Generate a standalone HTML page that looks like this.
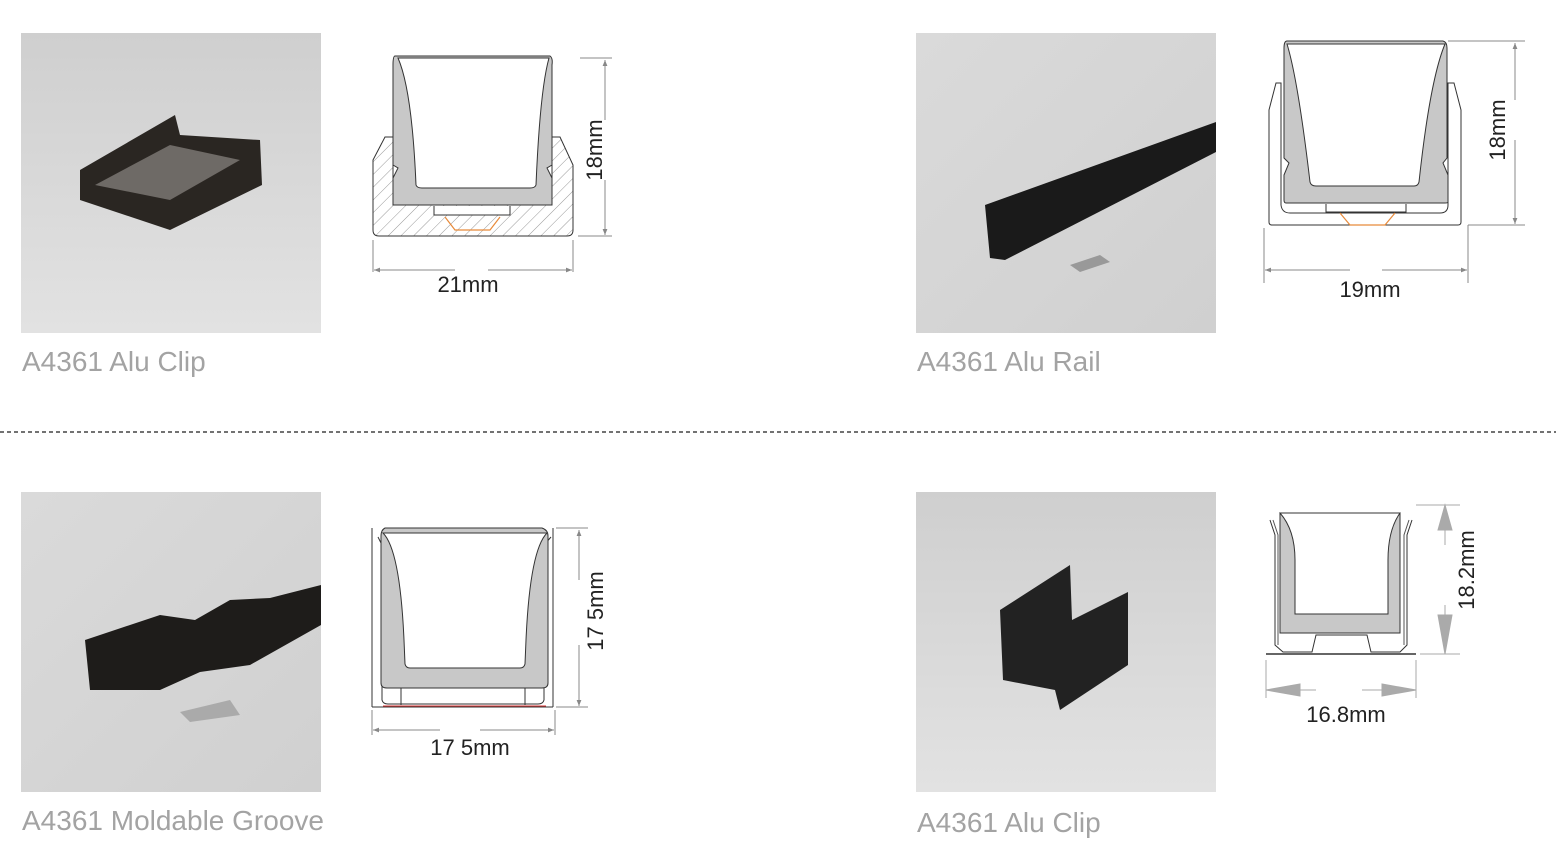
<!DOCTYPE html>
<html><head><meta charset="utf-8"><style>
html,body{margin:0;padding:0;background:#fff;width:1556px;height:856px;overflow:hidden}
svg{display:block}
</style></head><body>
<svg width="1556" height="856" viewBox="0 0 1556 856" xmlns="http://www.w3.org/2000/svg" font-family="'Liberation Sans', sans-serif">
<defs>
<pattern id="hatch" width="9" height="9" patternUnits="userSpaceOnUse" patternTransform="rotate(45)">
<rect width="9" height="9" fill="#fff"/><line x1="0" y1="0" x2="0" y2="9" stroke="#999" stroke-width="1"/></pattern>
<linearGradient id="bg1" x1="0" y1="0" x2="0" y2="1"><stop offset="0" stop-color="#cfcfcf"/><stop offset="1" stop-color="#e2e2e2"/></linearGradient>
<linearGradient id="bg2" x1="0" y1="0" x2="1" y2="1"><stop offset="0" stop-color="#dadada"/><stop offset="1" stop-color="#d0d0d0"/></linearGradient>
<marker id="ar" viewBox="0 0 10 10" refX="10" refY="5" markerWidth="10" markerHeight="6" orient="auto-start-reverse"><path d="M0,1 L10,5 L0,9Z" fill="#888"/></marker>
</defs>

<!-- photos -->
<rect x="21" y="33" width="300" height="300" fill="url(#bg1)"/>
<path d="M80,170 L175,115 L180,135 L260,140 L262,185 L170,230 L80,200Z" fill="#2a2622"/>
<path d="M95,185 L170,145 L240,160 L170,200Z" fill="#6e6a66"/>
<rect x="916" y="33" width="300" height="300" fill="url(#bg2)"/>
<path d="M985,205 L1216,122 L1216,152 L1005,260 L990,258Z" fill="#1a1a1a"/>
<path d="M1070,265 L1100,255 L1110,262 L1080,272Z" fill="#999"/>
<rect x="21" y="492" width="300" height="300" fill="url(#bg2)"/>
<path d="M85,640 L160,615 L195,620 L230,600 L270,598 L321,585 L321,625 L250,665 L200,672 L160,690 L90,690Z" fill="#1e1c1a"/>
<path d="M180,712 L230,700 L240,715 L190,722Z" fill="#aaa"/>
<rect x="916" y="492" width="300" height="300" fill="url(#bg1)"/>
<path d="M1000,610 L1070,565 L1072,620 L1128,592 L1128,665 L1060,710 L1055,690 L1003,680Z" fill="#222"/>

<!-- captions -->
<g fill="#a3a3a3" font-size="28">
<text x="22" y="371">A4361 Alu Clip</text>
<text x="917" y="371">A4361 Alu Rail</text>
<text x="22" y="830">A4361 Moldable Groove</text>
<text x="917" y="832">A4361 Alu Clip</text>
</g>

<line x1="0" y1="432" x2="1556" y2="432" stroke="#444" stroke-width="1.5" stroke-dasharray="4,3"/>

<!-- Diagram 1 -->
<g stroke="#333" stroke-width="1">
<path d="M385,137 L393,137 L393,205 L552,205 L552,137 L560,137 L573,165 L573,230 Q573,236 567,236 L379,236 Q373,236 373,230 L373,160Z" fill="url(#hatch)"/>
<path d="M395,56 L550,56 Q553,58 552,65 L552,165 L547,168 L552,178 L552,205 L393,205 L393,178 L398,168 L393,165 L393,65 Q393,56 395,56Z" fill="#c8c8c8"/>
<path d="M398,58 Q412,90 416,185 Q417,188 422,188 L530,188 Q535,188 536,185 Q540,90 549,58Z" fill="#fff"/>
<path d="M434,206 L434,215 L510,215 L510,206" fill="#fff"/>
</g>
<path d="M445,217 L455,230 L490,230 L500,217" fill="none" stroke="#e88a3a" stroke-width="1.2"/>
<g stroke="#888" stroke-width="1" fill="none">
<line x1="580" y1="58" x2="612" y2="58"/><line x1="578" y1="236" x2="612" y2="236"/>
<line x1="605" y1="60" x2="605" y2="120" marker-start="url(#ar)"/><line x1="605" y1="180" x2="605" y2="235" marker-end="url(#ar)"/>
<line x1="373" y1="240" x2="373" y2="272"/><line x1="573" y1="240" x2="573" y2="272"/>
<line x1="374" y1="270" x2="455" y2="270" marker-start="url(#ar)"/><line x1="488" y1="270" x2="572" y2="270" marker-end="url(#ar)"/>
</g>
<text x="468" y="292" font-size="22" text-anchor="middle" fill="#222">21mm</text>
<text transform="translate(602,150) rotate(-90)" font-size="22" text-anchor="middle" fill="#222">18mm</text>

<!-- Diagram 2 -->
<g stroke="#333" stroke-width="1">
<path d="M1276,83 L1281,83 L1281,205 Q1282,213 1290,213 L1440,213 Q1448,213 1448,205 L1448,83 L1454,83 L1461,110 L1461,222 Q1461,225 1458,225 L1272,225 Q1269,225 1269,222 L1269,110Z" fill="#fff"/>
<path d="M1287,41 L1443,41 Q1447,42 1447,48 L1447,158 L1443,163 L1448,175 L1448,202 Q1448,203 1445,203 L1286,203 Q1284,203 1284,200 L1284,175 L1289,163 L1284,158 L1284,48 Q1284,41 1287,41Z" fill="#c8c8c8"/>
<path d="M1287,44 Q1298,80 1310,182 Q1311,186 1316,186 L1414,186 Q1418,186 1419,182 Q1430,80 1445,44Z" fill="#fff"/>
<path d="M1326,204 L1326,212 L1406,212 L1406,204" fill="#fff"/>
</g>
<path d="M1340,213 L1350,225 L1385,225 L1395,213" fill="none" stroke="#e88a3a" stroke-width="1.2"/>
<g stroke="#888" stroke-width="1" fill="none">
<line x1="1448" y1="41" x2="1525" y2="41"/><line x1="1468" y1="225" x2="1525" y2="225"/>
<line x1="1515" y1="43" x2="1515" y2="100" marker-start="url(#ar)"/><line x1="1515" y1="140" x2="1515" y2="224" marker-end="url(#ar)"/>
<line x1="1264" y1="228" x2="1264" y2="283"/><line x1="1468" y1="225" x2="1468" y2="283"/>
<line x1="1265" y1="270" x2="1350" y2="270" marker-start="url(#ar)"/><line x1="1382" y1="270" x2="1467" y2="270" marker-end="url(#ar)"/>
</g>
<text x="1370" y="297" font-size="22" text-anchor="middle" fill="#222">19mm</text>
<text transform="translate(1505,130) rotate(-90)" font-size="22" text-anchor="middle" fill="#222">18mm</text>

<!-- Diagram 3 -->
<g stroke="#333" stroke-width="1">
<line x1="372" y1="528" x2="372" y2="707"/><line x1="553" y1="528" x2="553" y2="707"/>
<line x1="372" y1="707" x2="553" y2="707"/>
<path d="M378,537 L382,545 L382,700 Q383,704 388,704 L538,704 Q543,704 544,700 L544,545 L551,537" fill="none"/>
<path d="M385,528 L542,528 Q548,530 548,536 L548,683 Q548,688 542,688 L387,688 Q381,688 381,683 L381,536 Q381,530 385,528Z" fill="#c8c8c8"/>
<path d="M383,533 Q400,550 404,640 L405,664 Q406,668 410,668 L520,668 Q524,668 525,664 L526,640 Q530,550 547,533Z" fill="#fff"/>
<line x1="401" y1="688" x2="401" y2="705"/><line x1="525" y1="688" x2="525" y2="705"/>
</g>
<line x1="383" y1="706" x2="546" y2="706" stroke="#d33" stroke-width="1"/>
<g stroke="#888" stroke-width="1" fill="none">
<line x1="556" y1="528" x2="588" y2="528"/><line x1="556" y1="707" x2="588" y2="707"/>
<line x1="579" y1="530" x2="579" y2="580" marker-start="url(#ar)"/><line x1="579" y1="645" x2="579" y2="706" marker-end="url(#ar)"/>
<line x1="372" y1="710" x2="372" y2="735"/><line x1="555" y1="710" x2="555" y2="735"/>
<line x1="373" y1="730" x2="440" y2="730" marker-start="url(#ar)"/><line x1="480" y1="730" x2="554" y2="730" marker-end="url(#ar)"/>
</g>
<text x="470" y="755" font-size="22" text-anchor="middle" fill="#222">17 5mm</text>
<text transform="translate(603,611) rotate(-90)" font-size="22" text-anchor="middle" fill="#222">17 5mm</text>

<!-- Diagram 4 -->
<g stroke="#333" stroke-width="1">
<path d="M1270,520 L1275,535 L1275,645 L1283,652 L1312,652 L1316,635 L1367,635 L1371,652 L1400,652 L1407,645 L1407,535 L1412,520" fill="none"/>
<path d="M1273,520 L1278,535 L1278,645 M1409,520 L1404,535 L1404,645" fill="none" stroke="#555"/>
<rect x="1280" y="513" width="120" height="120" fill="#c8c8c8"/>
<path d="M1280,513 Q1295,530 1295,560 L1295,614 L1388,614 L1388,560 Q1388,530 1400,513Z" fill="#fff"/>
<line x1="1266" y1="654" x2="1416" y2="654" stroke-width="1.5"/>
</g>
<g fill="#aaa" stroke="#aaa">
<line x1="1416" y1="505" x2="1460" y2="505"/><line x1="1420" y1="654" x2="1460" y2="654"/>
<line x1="1445" y1="505" x2="1445" y2="654"/>
<path d="M1445,505 L1452,530 L1438,530Z"/><path d="M1445,654 L1452,615 L1438,615Z"/>
<line x1="1266" y1="660" x2="1266" y2="698"/><line x1="1416" y1="660" x2="1416" y2="698"/>
<line x1="1266" y1="690" x2="1316" y2="690"/><line x1="1362" y1="690" x2="1416" y2="690"/>
<path d="M1266,690 L1300,684 L1300,696Z"/><path d="M1416,690 L1382,684 L1382,696Z"/>
</g>
<rect x="1438" y="545" width="14" height="60" fill="#fff"/>
<text x="1346" y="722" font-size="22" text-anchor="middle" fill="#222">16.8mm</text>
<text transform="translate(1474,570) rotate(-90)" font-size="22" text-anchor="middle" fill="#222">18.2mm</text>
</svg>
</body></html>
